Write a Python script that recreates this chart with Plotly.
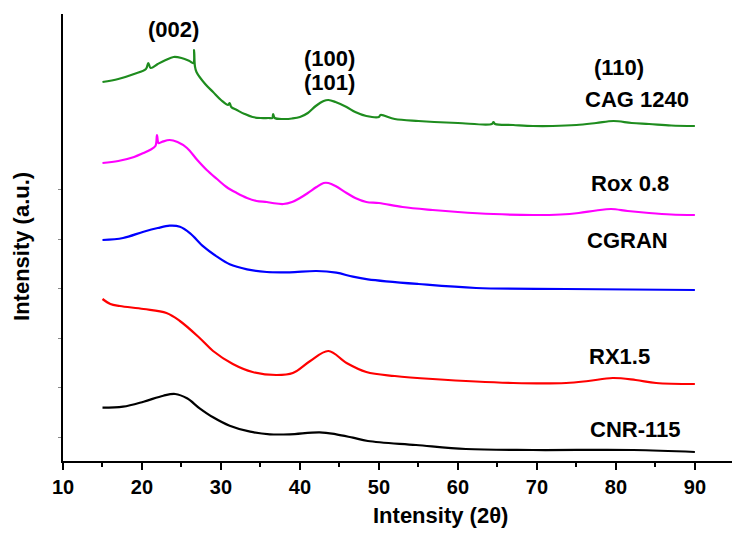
import plotly.graph_objects as go

# ---- data (2-theta in degrees, intensity in arbitrary units, offset stacked) ----
cag_x = [15, 17, 19, 20.5, 20.8, 21.1, 22, 23, 24, 25, 26, 26.5, 26.6, 26.7, 26.9, 28, 29, 30,
         30.9, 31.1, 31.3, 32, 33, 34, 35, 36, 36.5, 36.6, 36.8, 38, 39, 40, 41, 42, 43, 43.6,
         44.5, 45.9, 47, 48.4, 50, 50.2, 52, 55, 57, 60, 64.3, 64.5, 64.7, 67, 69.5, 72, 75,
         77.5, 79.7, 82, 84.2, 87, 90]
cag_y = [379, 382, 387, 392, 398, 393, 397, 401, 404, 403, 400, 398, 411, 395, 389, 377, 369, 361,
         356, 358, 354, 351, 347, 344, 343, 343, 343, 347, 343, 342, 342.5, 344, 348, 355, 360, 361,
         359, 354, 349, 345, 344, 346, 342, 340, 339, 338, 337, 339, 337, 336, 335, 335, 336,
         338, 340, 338, 337, 335.5, 335]

rox_x = [15, 17, 19, 20.2, 21, 21.7, 21.9, 22.1, 22.5, 23.5, 24.5, 25.7, 27, 28.2, 29.5, 30.7, 32,
         33.3, 34.5, 35.8, 36.5, 37.9, 39, 40, 41, 42.1, 43, 43.6, 44.5, 45.9, 47, 48.4, 50, 53,
         56.8, 60, 64.5, 69.5, 73, 75.3, 77.5, 79.4, 81.5, 84.2, 87, 90]
rox_y = [298, 300, 304, 308, 311, 315, 326, 318, 319, 321, 319, 313, 301, 291, 282, 274, 268,
         263, 260, 259, 258, 257, 259, 263, 268, 274, 278, 278, 275, 268, 263, 259, 258, 254,
         251, 249, 247, 246, 246.5, 248, 250.5, 252, 250, 248, 246.5, 246]

cgran_x = [15, 17.6, 20.2, 22, 23.5, 24.8, 26.1, 27.8, 29.5, 31.1, 33.3, 35.8, 38.7, 42.1, 44.6,
           46.7, 48.6, 55, 62.3, 73.7, 90]
cgran_y = [221, 223, 229.3, 233, 235.3, 234.3, 227.7, 214.3, 204.3, 196.7, 191.7, 189, 188.7, 190,
           188.3, 184.3, 181.7, 177, 173, 172, 171]

rx_x = [15, 16, 17.2, 20.2, 23.1, 24.8, 27.3, 29, 31.5, 34, 37, 39.1, 41.3, 43.6, 45.9, 48.4,
        52, 56.8, 67, 73.7, 76.5, 79.6, 82.5, 85.1, 90]
rx_y = [162, 157, 155, 152, 148, 140, 123, 110, 97, 89, 86, 88, 100, 110, 98, 89,
        85, 82, 78, 78, 80, 83, 81, 78, 77]

cnr_x = [15, 17.6, 20.2, 22.7, 24.2, 25.7, 27.3, 29, 31.1, 33.7, 36.2, 38.7, 42.5, 44.6, 46.7,
         48.6, 54.7, 61, 69.5, 82.2, 90]
cnr_y = [53.3, 54.3, 59.3, 65.3, 67, 62.7, 52.7, 43.7, 35.3, 29.3, 26.7, 26.7, 28.7, 26.7, 23.3,
         20, 16, 12, 11, 11, 9]

series_names = ["CAG 1240", "Rox 0.8", "CGRAN", "RX1.5", "CNR-115"]
series_colors = ["#1e8c1e", "#ff00ff", "#0000ff", "#ff0000", "#000000"]
series_x = [cag_x, rox_x, cgran_x, rx_x, cnr_x]
series_y = [cag_y, rox_y, cgran_y, rx_y, cnr_y]

# curve labels: (text, 2theta, intensity)
curve_labels = [("CAG 1240", 82.7, 362), ("Rox 0.8", 81.8, 278), ("CGRAN", 81.5, 221),
                ("RX1.5", 80.4, 105), ("CNR-115", 82.4, 32)]
# Miller index labels
peak_labels = [("(002)", 24.0, 432), ("(100)", 43.8, 403), ("(101)", 43.8, 379), ("(110)", 80.4, 394)]

x_ticks = [10, 20, 30, 40, 50, 60, 70, 80, 90]
y_tick_positions = [24, 73.5, 123, 172.5, 222, 272]

FONT = "Liberation Sans, Arial"

fig = go.Figure()
for name, col, xs, ys in zip(series_names, series_colors, series_x, series_y):
    fig.add_trace(go.Scatter(x=xs, y=ys, mode="lines", name=name,
                             line=dict(color=col, width=2.2, shape="spline", smoothing=1.0)))

ann = []
for t, x, y in curve_labels + peak_labels:
    ann.append(dict(x=x, y=y, xref="x", yref="y", text=t, showarrow=False,
                    font=dict(family=FONT, size=22, color="black", weight="bold"),
                    xanchor="center", yanchor="middle"))
ann.append(dict(x=57.85, y=-0.121, xref="x", yref="paper", text="Intensity (2θ)", showarrow=False,
                font=dict(family=FONT, size=22, color="black", weight="bold"),
                xanchor="center", yanchor="middle"))
ann.append(dict(x=-0.0613, y=0.481, xref="paper", yref="paper", text="Intensity (a.u.)", showarrow=False,
                textangle=-90,
                font=dict(family=FONT, size=22, color="black", weight="bold"),
                xanchor="center", yanchor="middle"))

fig.update_layout(
    width=732, height=533,
    margin=dict(l=63, r=0, t=14, b=72),
    paper_bgcolor="white", plot_bgcolor="white",
    showlegend=False,
    annotations=ann,
    xaxis=dict(range=[10, 94.7], tickvals=x_ticks, ticks="outside", ticklen=7, tickwidth=2,
               tickcolor="black", showline=True, linewidth=2, linecolor="black",
               showgrid=False, zeroline=False,
               tickfont=dict(family=FONT, size=20, color="black", weight="bold"),
               minor=dict(dtick=5, tick0=15, ticks="outside", ticklen=4, tickwidth=2, tickcolor="black")),
    yaxis=dict(range=[0, 447], tickvals=y_tick_positions, ticks="outside", ticklen=3, tickwidth=1,
               tickcolor="#888888", showticklabels=False, showline=True, linewidth=2,
               linecolor="black", showgrid=False, zeroline=False),
)

fig.write_html("out.html")
